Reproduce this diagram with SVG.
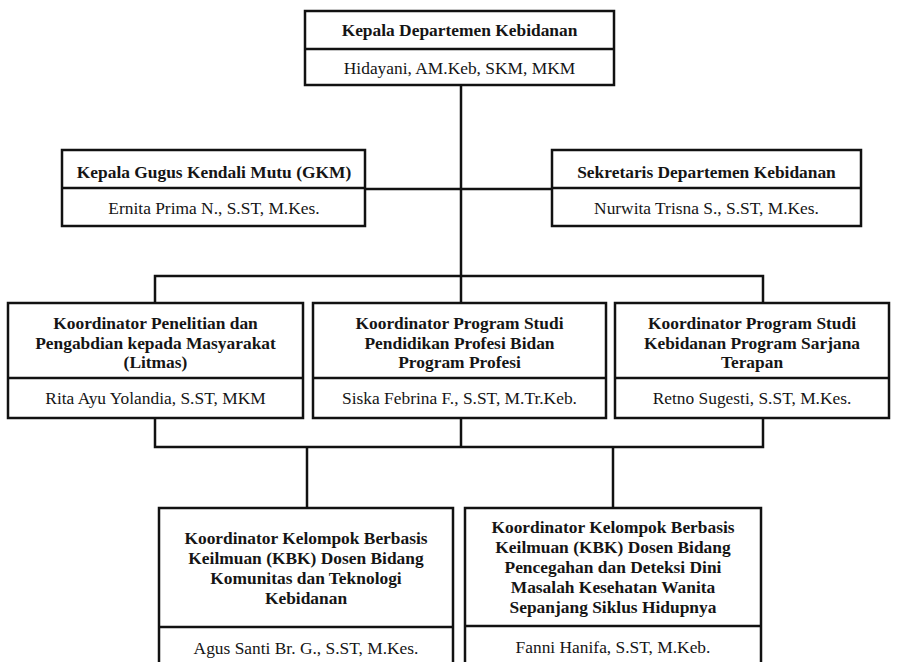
<svg xmlns="http://www.w3.org/2000/svg" width="897" height="662" viewBox="0 0 897 662">
  <style>
    .box { fill: #ffffff; stroke: #111111; stroke-width: 2.5; }
    .div { stroke: #111111; stroke-width: 2.5; }
    .ln { fill: none; stroke: #111111; stroke-width: 2.5; }
    .t { font-family: "Liberation Serif", "Times New Roman", serif; font-size: 17.4px; fill: #151515; text-anchor: middle; }
    .b { font-weight: bold; }
  </style>
  <rect width="897" height="662" fill="#ffffff"/>

  <!-- connectors -->
  <g id="connectors">
    <path class="ln" d="M461 85 V276"/>
    <path class="ln" d="M365 189 H552"/>
    <path class="ln" d="M155 303 V276 H763 V303"/>
    <path class="ln" d="M461 276 V303"/>
    <path class="ln" d="M155 418 V447 H763 V418"/>
    <path class="ln" d="M461 418 V447"/>
    <path class="ln" d="M307 447 V508"/>
    <path class="ln" d="M613 447 V508"/>
  </g>

  <!-- head of department -->
  <g id="kepala">
    <rect class="box" x="305" y="11" width="309" height="74"/>
    <line class="div" x1="305" y1="49" x2="614" y2="49"/>
    <text class="t b" x="459.5" y="36">Kepala Departemen Kebidanan</text>
    <text class="t" x="459.5" y="74">Hidayani, AM.Keb, SKM, MKM</text>
  </g>

  <!-- quality control -->
  <g id="gkm">
    <rect class="box" x="62" y="150" width="303" height="76"/>
    <line class="div" x1="62" y1="188" x2="365" y2="188"/>
    <text class="t b" x="214" y="178">Kepala Gugus Kendali Mutu (GKM)</text>
    <text class="t" x="214" y="214">Ernita Prima N., S.ST, M.Kes.</text>
  </g>

  <!-- secretary -->
  <g id="sekretaris">
    <rect class="box" x="552" y="150" width="309" height="76"/>
    <line class="div" x1="552" y1="188" x2="861" y2="188"/>
    <text class="t b" x="706.5" y="178">Sekretaris Departemen Kebidanan</text>
    <text class="t" x="706.5" y="214">Nurwita Trisna S., S.ST, M.Kes.</text>
  </g>

  <!-- coordinators -->
  <g id="litmas">
    <rect class="box" x="8" y="303" width="295" height="115"/>
    <line class="div" x1="8" y1="378" x2="303" y2="378"/>
    <text class="t b" x="155.5" y="329">Koordinator Penelitian dan</text>
    <text class="t b" x="155.5" y="348.5">Pengabdian kepada Masyarakat</text>
    <text class="t b" x="155.5" y="368">(Litmas)</text>
    <text class="t" x="155.5" y="404">Rita Ayu Yolandia, S.ST, MKM</text>
  </g>

  <g id="profesi">
    <rect class="box" x="313" y="303" width="293" height="115"/>
    <line class="div" x1="313" y1="378" x2="606" y2="378"/>
    <text class="t b" x="459.5" y="329">Koordinator Program Studi</text>
    <text class="t b" x="459.5" y="348.5">Pendidikan Profesi Bidan</text>
    <text class="t b" x="459.5" y="368">Program Profesi</text>
    <text class="t" x="459.5" y="404">Siska Febrina F., S.ST, M.Tr.Keb.</text>
  </g>

  <g id="sarjana">
    <rect class="box" x="615" y="303" width="274" height="115"/>
    <line class="div" x1="615" y1="378" x2="889" y2="378"/>
    <text class="t b" x="752" y="329">Koordinator Program Studi</text>
    <text class="t b" x="752" y="348.5">Kebidanan Program Sarjana</text>
    <text class="t b" x="752" y="368">Terapan</text>
    <text class="t" x="752" y="404">Retno Sugesti, S.ST, M.Kes.</text>
  </g>

  <!-- KBK coordinators -->
  <g id="kbk-komunitas">
    <rect class="box" x="159" y="508" width="294" height="170"/>
    <line class="div" x1="159" y1="627" x2="453" y2="627"/>
    <text class="t b" x="306" y="544">Koordinator Kelompok Berbasis</text>
    <text class="t b" x="306" y="564">Keilmuan (KBK) Dosen Bidang</text>
    <text class="t b" x="306" y="584">Komunitas dan Teknologi</text>
    <text class="t b" x="306" y="604">Kebidanan</text>
    <text class="t" x="306" y="654">Agus Santi Br. G., S.ST, M.Kes.</text>
  </g>

  <g id="kbk-pencegahan">
    <rect class="box" x="465" y="508" width="296" height="170"/>
    <line class="div" x1="465" y1="626" x2="761" y2="626"/>
    <text class="t b" x="613" y="533">Koordinator Kelompok Berbasis</text>
    <text class="t b" x="613" y="553">Keilmuan (KBK) Dosen Bidang</text>
    <text class="t b" x="613" y="573">Pencegahan dan Deteksi Dini</text>
    <text class="t b" x="613" y="593">Masalah Kesehatan Wanita</text>
    <text class="t b" x="613" y="613">Sepanjang Siklus Hidupnya</text>
    <text class="t" x="613" y="653">Fanni Hanifa, S.ST, M.Keb.</text>
  </g>
</svg>
